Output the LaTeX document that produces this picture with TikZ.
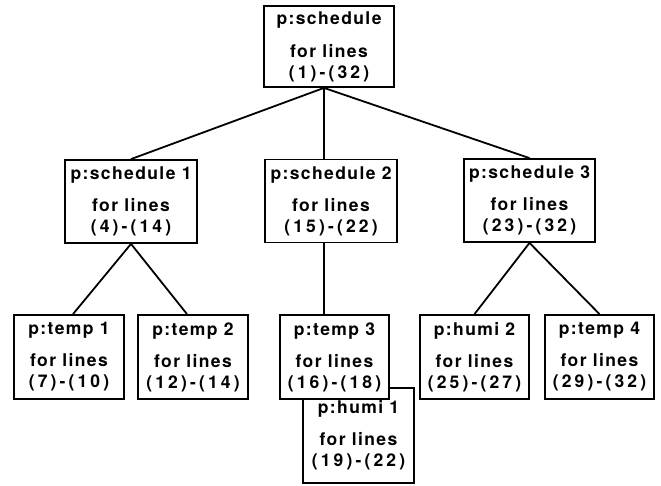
\documentclass[tikz,border=0pt]{standalone}
\usepackage{fontspec}
\newfontfamily\progfont[LetterSpace=8]{TeX Gyre Heros}
\newfontfamily\rangefont[LetterSpace=18]{TeX Gyre Heros}
% second and third line of every box
\newcommand\forlines[1]{for lines\\{\rangefont\bfseries #1}}
\tikzset{
  prog/.style={draw, line width=1.8pt, fill=white, align=center, inner sep=0pt,
    minimum width=110pt, minimum height=84pt,
    font=\progfont\bfseries\fontsize{17.5}{21}\selectfont},
  wide/.style={prog, minimum width=131pt, minimum height=83pt},
  link/.style={line width=1.8pt}
}
\begin{document}
\begin{tikzpicture}[x=1pt,y=1pt]
  \useasboundingbox (0,0) rectangle (661,-485);
  % main program and the three schedules
  \node[wide, minimum width=130pt, minimum height=81pt] (sched) at (329,-46.5)
    {p:schedule\\[12pt]\forlines{(1)-(32)}};
  \node[wide, minimum width=132pt] (sched1) at (131,-201.5)
    {p:schedule 1\\[11pt]\forlines{(4)-(14)}};
  \node[wide, minimum width=132pt] (sched2) at (331,-201)
    {p:schedule 2\\[11pt]\forlines{(15)-(22)}};
  \node[wide] (sched3) at (529.5,-200.5)
    {p:schedule 3\\[11pt]\forlines{(23)-(32)}};
  % leaf programs
  \node[prog] (temp1) at (69,-357) {p:temp 1\\[11pt]\forlines{(7)-(10)}};
  \node[prog] (temp2) at (193,-357) {p:temp 2\\[11pt]\forlines{(12)-(14)}};
  \node[prog, minimum width=111pt, minimum height=95pt] (humi1) at (358.5,-435.5)
    {p:humi 1\\[11pt]\forlines{(19)-(22)}};
  \node[prog, minimum width=109pt] (temp3) at (334.5,-357)
    {p:temp 3\\[11pt]\forlines{(16)-(18)}};
  \node[prog, minimum width=109pt] (humi2) at (474.5,-357)
    {p:humi 2\\[11pt]\forlines{(25)-(27)}};
  \node[prog, minimum width=109pt] (temp4) at (599.5,-357)
    {p:temp 4\\[11pt]\forlines{(29)-(32)}};
  % connectors
  \coordinate (spine) at (324,0);
  \draw[link] (sched.south -| spine) -- (sched1.north);
  \draw[link] (sched.south -| spine) -- (sched2.north -| spine);
  \draw[link] (sched.south -| spine) -- (sched3.north);
  \draw[link] (sched1.south) -- ([xshift=4pt]temp1.north);
  \draw[link] (sched1.south) -- ([xshift=-6pt]temp2.north);
  \draw[link] (sched2.south -| spine) -- (temp3.north -| spine);
  \draw[link] (sched3.south) -- (humi2.north);
  \draw[link] (sched3.south) -- (temp4.north);
\end{tikzpicture}
\end{document}
